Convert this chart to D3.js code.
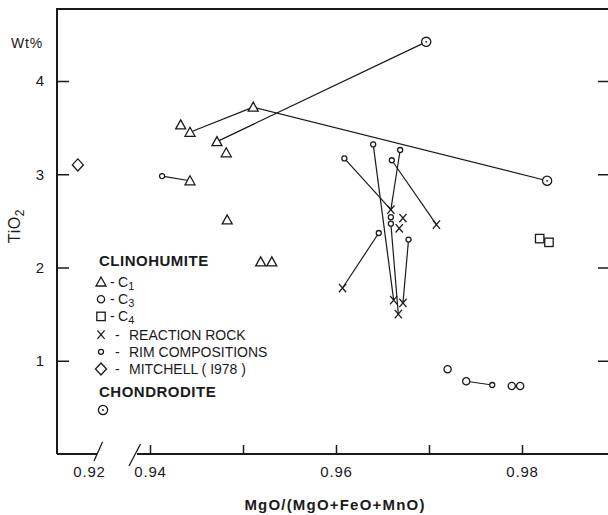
<!DOCTYPE html>
<html><head><meta charset="utf-8">
<script src="https://cdn.jsdelivr.net/npm/d3@7"></script>
<style>
body{margin:0;background:#fff}
text{font-family:"Liberation Sans",Arial,sans-serif;fill:#1a1a1a}
</style>
</head><body><svg id="c" width="608" height="515"></svg>
<script>
// ---- data: [MgO/(MgO+FeO+MnO), TiO2 wt%] ----
const c1 = [[0.9433,3.53],[0.9443,3.45],[0.9511,3.72],[0.9472,3.35],[0.9482,3.23],
            [0.9443,2.93],[0.9483,2.51],[0.9519,2.06],[0.9531,2.06]];
const c3 = [[0.9720,0.91],[0.9740,0.78],[0.9789,0.73],[0.9798,0.73]];
const c4 = [[0.9819,2.31],[0.9829,2.27]];
const reaction = [[0.9659,2.62],[0.9672,2.53],[0.9668,2.42],[0.9708,2.46],
                  [0.9607,1.78],[0.9662,1.65],[0.9672,1.62],[0.9667,1.50]];
const rim = [[0.9413,2.98],[0.9768,0.74],[0.9609,3.17],[0.9640,3.32],[0.9669,3.26],
             [0.9660,3.15],[0.9646,2.37],[0.9678,2.30],[0.9659,2.54],[0.9659,2.47]];
const mitchell = [[0.9188,3.10]];
const chondrodite = [[0.9697,4.42],[0.9827,2.93]];
// tie lines: [series, index] -> [series, index]
const tieLines = [
  [["c1",1],["c1",2]], [["c1",2],["chondrodite",1]], [["c1",3],["chondrodite",0]],
  [["rim",0],["c1",5]], [["c3",1],["rim",1]],
  [["rim",2],["reaction",0]], [["rim",3],["reaction",5]], [["rim",4],["reaction",0]],
  [["rim",5],["reaction",3]], [["rim",6],["reaction",4]], [["rim",9],["reaction",7]],
  [["rim",7],["reaction",6]]
];
const yTicks = [1,2,3,4];
const xTicks = [0.94,0.95,0.96,0.97,0.98];
const xLabelled = [0.94,0.96,0.98];
const brokenTicks = [0.92];
const legendItems = [
  {sym:"tri", label:"C", sub:"1"},
  {sym:"c3", label:"C", sub:"3"},
  {sym:"sq", label:"C", sub:"4"},
  {sym:"x", label:"REACTION ROCK"},
  {sym:"rim", label:"RIM COMPOSITIONS"},
  {sym:"dia", label:"MITCHELL ( I978 )"}
];
const legendRowY = [282, 299.2, 316.4, 334.6, 351.8, 369];

const series = {c1, c3, c4, reaction, rim, mitchell, chondrodite};

// ---- scales ----
const svg = d3.select("#c");
const ink = "#1a1a1a";
const x = d3.scaleLinear().domain([0.94,0.98]).range([150,522]);
const xb = d3.scaleLinear().domain([0.92,0.96]).range([89,461]); // left of axis break
const y = d3.scaleLinear().domain([0,4]).range([454,81]);
const X = v => v < 0.93 ? xb(v) : x(v);
const L = 57, R = 610, T = 9, B = 454;

// ---- frame ----
const frame = svg.append("g").attr("stroke",ink).attr("stroke-width",2).attr("fill","none");
frame.append("path").attr("d",`M${L},${B}V${T}H${R}`);
frame.append("path").attr("d",`M${L},${B}H97`);
frame.append("path").attr("d",`M137,${B}H${R}`);
frame.append("path").attr("stroke-width",1.3).attr("d","M94,461L102.5,442");
frame.append("path").attr("stroke-width",1.3).attr("d","M129,466L140.5,444");

// ---- axes ----
const styleAxis = g => { g.select(".domain").remove();
  g.selectAll("line").attr("stroke",ink).attr("stroke-width",1.5);
  g.selectAll("text").attr("font-size",15).attr("fill",ink)
   .style("font-family","'Liberation Sans',Arial,sans-serif"); };
svg.append("g").attr("transform",`translate(${L},0)`)
  .call(d3.axisLeft(y).tickValues(yTicks).tickSize(-12).tickPadding(13).tickFormat(d3.format("d")))
  .call(styleAxis);
svg.append("g").attr("transform",`translate(${R},0)`)
  .call(d3.axisRight(y).tickValues(yTicks).tickSize(-12).tickFormat(""))
  .call(styleAxis);
svg.append("g").attr("transform",`translate(0,${B})`)
  .call(d3.axisBottom(x).tickValues(xTicks).tickSize(-9).tickPadding(12)
    .tickFormat(d => xLabelled.includes(d) ? d3.format(".2f")(d) : ""))
  .call(styleAxis).selectAll("text").attr("letter-spacing",0.8);
svg.append("g").attr("transform",`translate(0,${B})`)
  .call(d3.axisBottom(xb).tickValues(brokenTicks).tickSize(0).tickPadding(12).tickFormat(d3.format(".2f")))
  .call(styleAxis).selectAll("text").attr("letter-spacing",0.8);

// axis titles
svg.append("text").attr("x",27).attr("y",48).attr("text-anchor","middle")
  .attr("font-size",14).attr("letter-spacing",0.8).text("Wt%");
const yt = svg.append("text").attr("transform","translate(20,226) rotate(-90)")
  .attr("text-anchor","middle").attr("font-size",16).attr("letter-spacing",0.6);
yt.append("tspan").text("TiO");
yt.append("tspan").attr("font-size",12).attr("dy",4).text("2");
svg.append("text").attr("x",335).attr("y",510).attr("text-anchor","middle")
  .attr("font-size",15).attr("font-weight","bold").attr("letter-spacing",1.2)
  .text("MgO/(MgO+FeO+MnO)");

// ---- tie lines ----
svg.append("g").attr("stroke",ink).attr("stroke-width",1.2)
  .selectAll("line").data(tieLines).join("line")
  .attr("x1",d=>X(series[d[0][0]][d[0][1]][0])).attr("y1",d=>y(series[d[0][0]][d[0][1]][1]))
  .attr("x2",d=>X(series[d[1][0]][d[1][1]][0])).attr("y2",d=>y(series[d[1][0]][d[1][1]][1]));

// ---- markers ----
function marker(g, sym){
  g.attr("fill","#fff").attr("stroke",ink).attr("stroke-width",1.3);
  if(sym==="tri") g.append("path").attr("d","M0,-5L5,4H-5Z");
  else if(sym==="c3") g.append("circle").attr("r",3.6);
  else if(sym==="rim") g.append("circle").attr("r",2.5);
  else if(sym==="sq") g.append("rect").attr("x",-4.2).attr("y",-4.2).attr("width",8.4).attr("height",8.4);
  else if(sym==="x") g.append("path").attr("fill","none").attr("d","M-3.6,-4.2L3.6,4.2M3.6,-4.2L-3.6,4.2");
  else if(sym==="dia") g.append("path").attr("d","M0,-6L5.5,0L0,6L-5.5,0Z");
  else if(sym==="chond"){ g.append("circle").attr("r",4.6);
    g.append("circle").attr("r",0.9).attr("fill",ink).attr("stroke","none"); }
}
const plotSeries = [[c1,"tri"],[c3,"c3"],[c4,"sq"],[reaction,"x"],[rim,"rim"],[mitchell,"dia"],[chondrodite,"chond"]];
plotSeries.forEach(([data,sym]) => {
  svg.append("g").selectAll("g").data(data).join("g")
    .attr("transform",d=>`translate(${X(d[0])},${y(d[1])})`)
    .each(function(){ marker(d3.select(this), sym); });
});

// ---- legend ----
const lg = svg.append("g");
lg.append("text").attr("x",99).attr("y",266).attr("font-size",15).attr("font-weight","bold")
  .attr("letter-spacing",0.5).text("CLINOHUMITE");
legendItems.forEach((it,i) => {
  const cy = legendRowY[i];
  marker(lg.append("g").attr("transform",`translate(101,${cy})`), it.sym);
  lg.append("text").attr("x",it.sub?110:115).attr("y",cy+5).attr("font-size",14).text("-");
  const t = lg.append("text").attr("x",it.sub?118:129).attr("y",cy+5).attr("font-size",14);
  t.append("tspan").text(it.label);
  if(it.sub) t.append("tspan").attr("dy",3).attr("font-size",11).text(it.sub);
});
lg.append("text").attr("x",99).attr("y",397).attr("font-size",15).attr("font-weight","bold")
  .attr("letter-spacing",0.5).text("CHONDRODITE");
marker(lg.append("g").attr("transform","translate(103,410)"), "chond");
</script>
</body></html>
